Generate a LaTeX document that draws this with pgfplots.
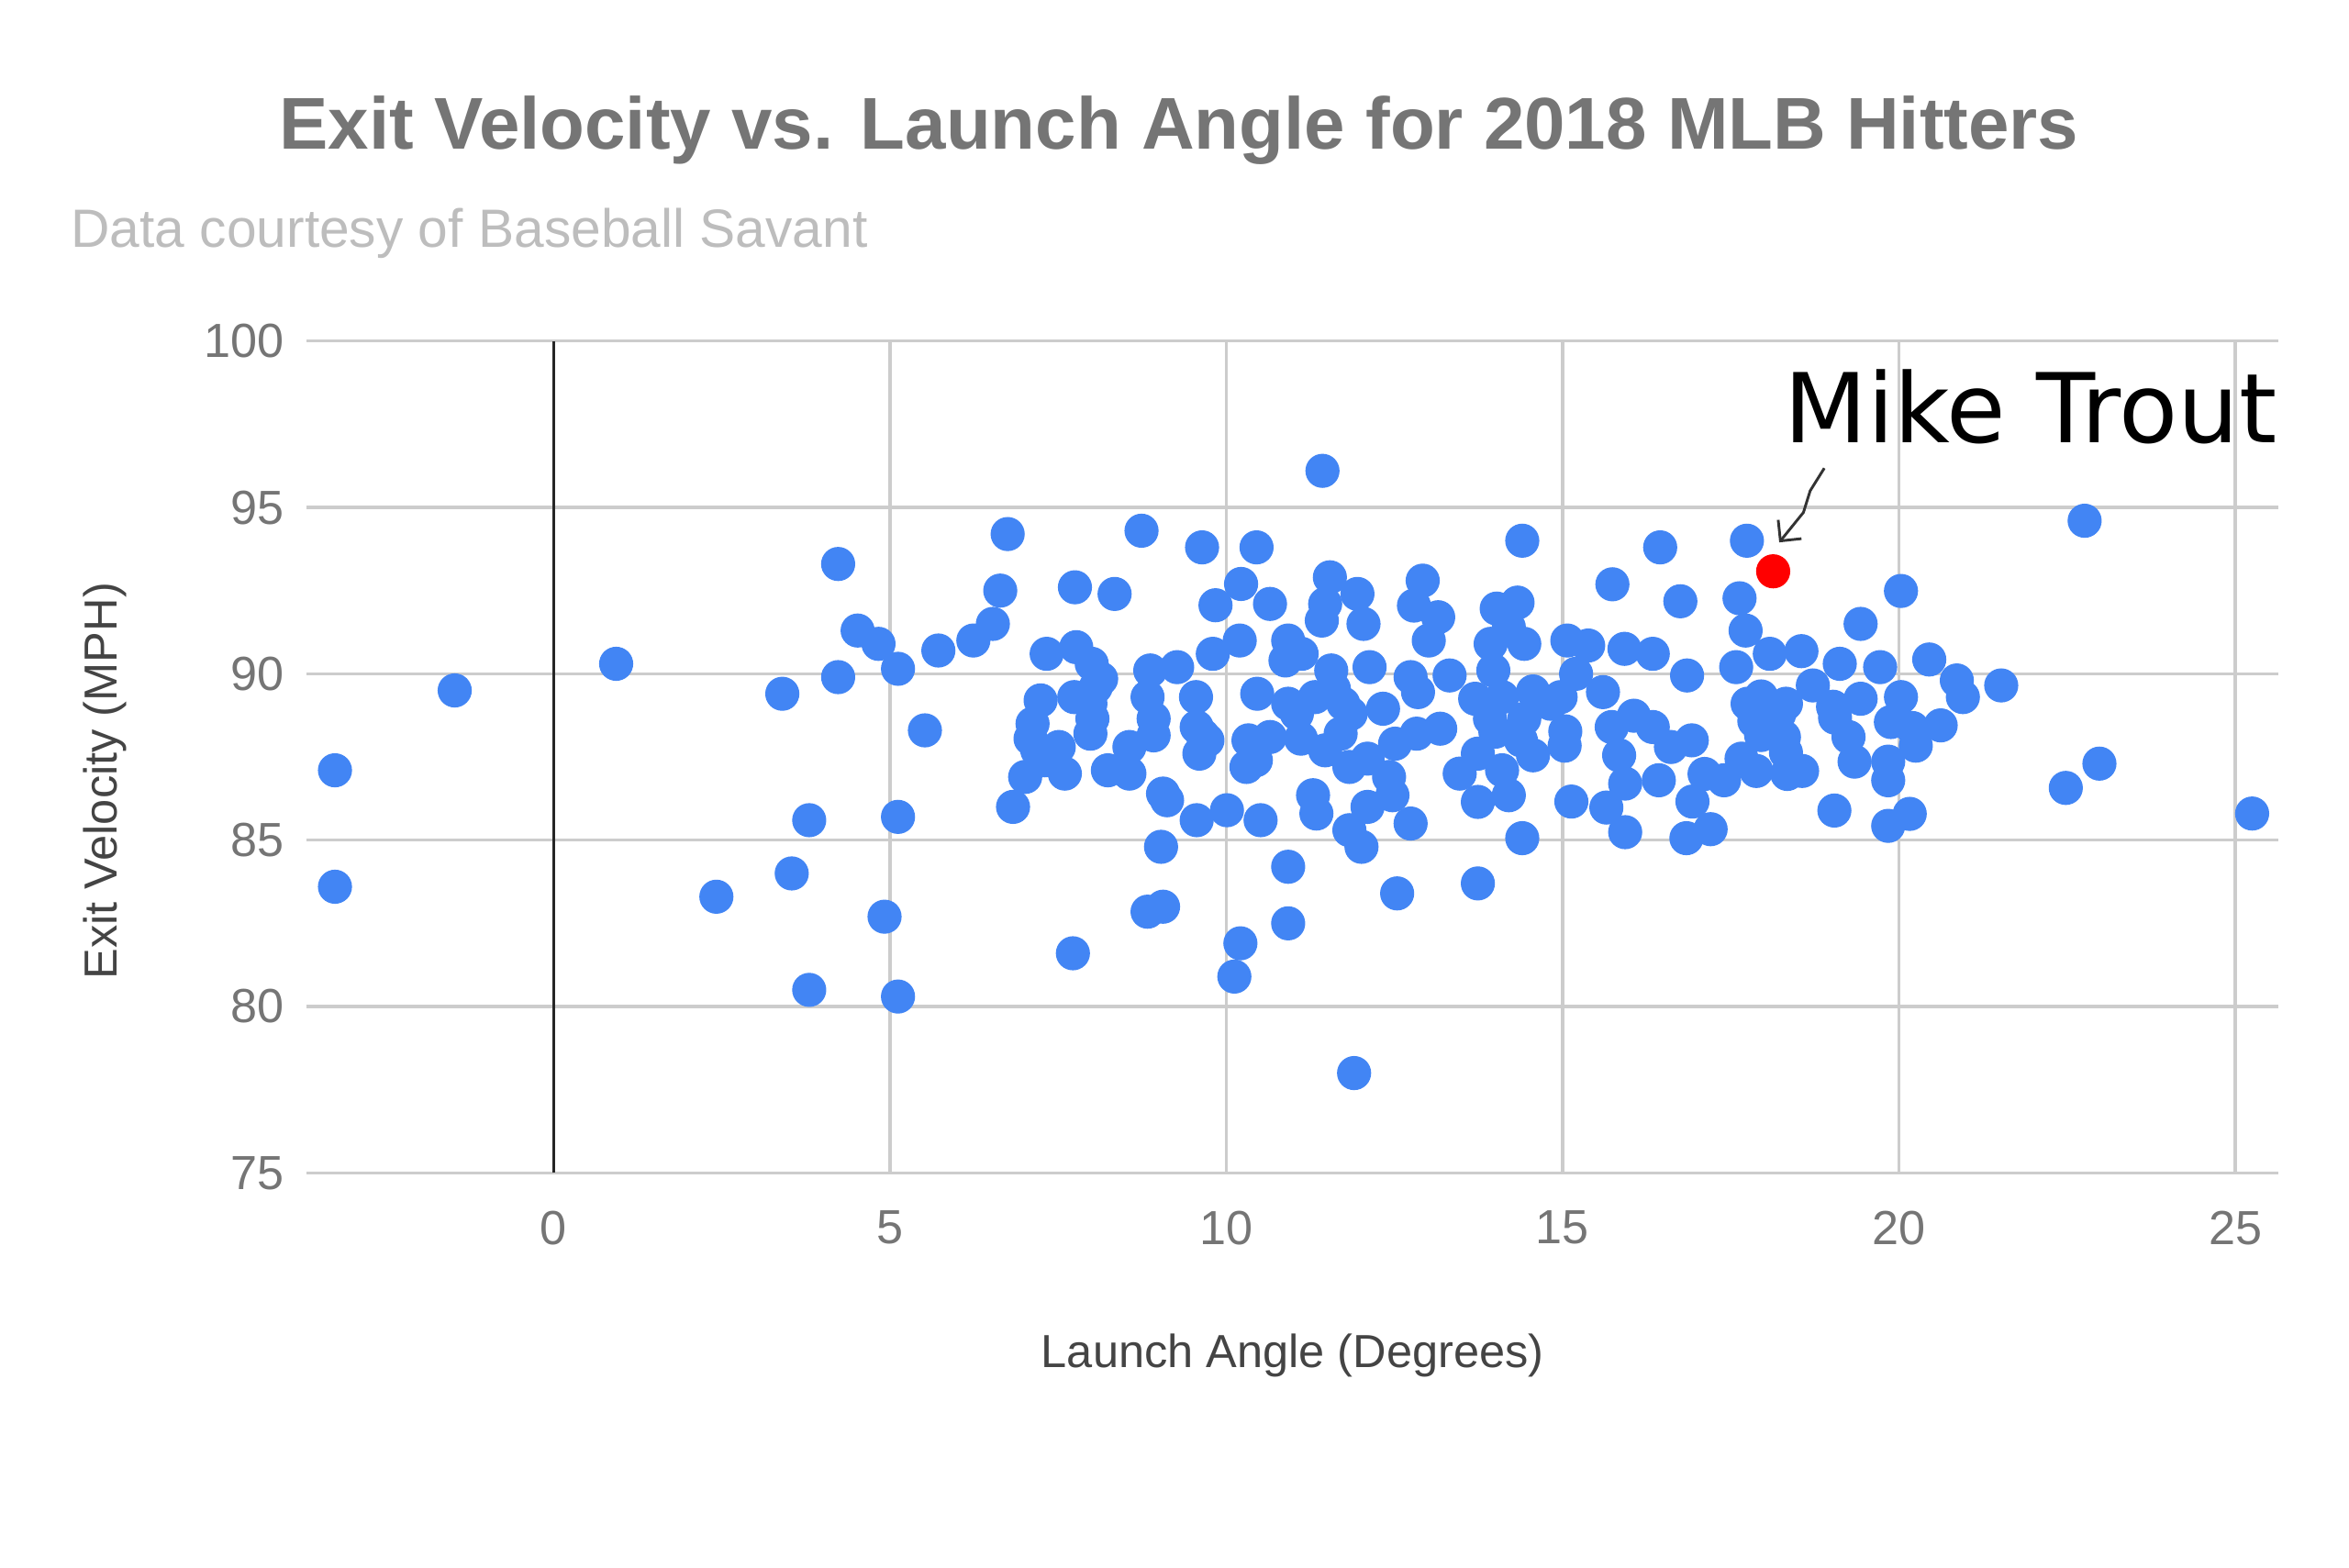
\documentclass[border=0pt]{standalone}
\usepackage{pgfplots}
\pgfplotsset{compat=1.18}
\usepackage{pgfplotstable}
\usepackage{fontspec}
\setmainfont{Liberation Sans}
\newfontfamily\djv{DejaVu Sans}
\usetikzlibrary{arrows.meta}
\definecolor{gblue}{HTML}{4285F4}
\definecolor{titlegray}{HTML}{757575}
\definecolor{subgray}{HTML}{BDBDBD}
\definecolor{tickgray}{HTML}{757575}
\definecolor{labgray}{HTML}{444444}
\definecolor{gridgray}{HTML}{CCCCCC}
\definecolor{troutred}{HTML}{FF0000}

\pgfplotstableread{
x y
-3.25 87.1
-3.25 83.6
-1.47 89.5
0.93 90.3
2.42 83.3
3.40 89.4
3.54 84.0
3.80 85.6
3.80 80.5
4.23 93.3
4.23 89.9
4.52 91.3
4.83 90.9
4.92 82.7
5.12 90.15
5.12 85.7
5.12 80.3
5.52 88.3
5.72 90.7
6.24 91.0
6.53 91.5
6.64 92.5
6.75 94.2
6.83 86.0
7.01 86.9
7.09 88.05
7.12 88.5
7.19 87.7
7.24 89.2
7.30 87.4
7.33 90.6
7.51 87.8
7.60 87.0
7.72 81.6
7.74 89.3
7.75 92.6
7.77 90.8
7.98 89.1
7.98 88.2
8.01 88.65
8.06 89.6
8.14 89.85
8.00 90.3
8.24 87.1
8.34 92.4
8.56 87.8
8.56 87.0
8.74 94.3
8.83 89.3
8.87 90.1
8.92 88.65
8.92 88.15
8.83 82.85
9.03 84.8
9.06 83.0
9.06 86.4
9.12 86.2
9.27 90.2
9.55 89.3
9.56 88.4
9.65 88.15
9.72 88.0
9.56 85.6
9.64 93.8
9.80 90.6
9.84 92.06
9.60 87.6
10.01 85.9
10.12 80.9
10.30 87.2
10.22 92.7
10.20 91.0
10.21 81.9
10.45 93.8
10.46 89.4
10.44 87.4
10.51 85.6
10.65 92.1
10.65 88.1
10.33 88.0
10.88 90.4
10.92 91.0
10.92 89.1
10.92 84.2
10.92 82.5
11.05 88.8
11.12 90.6
11.11 88.05
11.29 86.35
11.32 89.3
11.34 85.8
11.42 91.6
11.47 87.7
11.43 96.1
11.47 92.1
11.54 92.9
11.56 90.1
11.60 89.55
11.70 88.2
11.74 89.1
11.83 87.2
11.83 85.3
11.85 88.8
11.90 78.0
11.95 92.4
12.01 84.8
12.04 91.5
12.10 87.45
12.10 86.0
12.13 90.2
12.33 88.95
12.42 86.9
12.47 86.35
12.51 87.9
12.54 83.4
12.74 89.9
12.74 85.5
12.79 92.05
12.85 89.45
12.83 88.2
12.92 92.8
13.01 91.0
13.15 91.7
13.18 88.35
13.32 89.95
13.47 87.0
13.70 89.25
13.74 87.6
13.74 86.15
13.74 83.7
13.92 88.65
13.93 90.9
13.97 90.1
14.00 88.26
14.10 89.3
14.02 91.96
14.10 87.1
14.20 91.4
14.20 86.35
14.33 92.14
14.40 94.0
14.40 85.06
14.43 90.9
14.56 87.55
14.56 89.47
14.97 89.3
14.43 88.65
14.38 88.0
14.82 89.1
15.04 88.27
15.07 91.0
15.03 87.84
15.13 86.16
15.20 90.0
15.38 90.85
15.60 89.45
15.65 85.98
15.73 88.4
15.74 92.69
15.84 87.55
15.92 90.75
15.93 86.7
15.93 85.24
16.06 88.74
16.34 88.4
16.34 90.6
16.43 86.8
16.45 93.8
16.61 87.8
16.75 92.18
16.85 89.95
16.84 85.06
16.92 88.0
16.93 86.16
17.11 86.99
17.20 85.33
17.40 86.8
17.58 90.2
17.63 92.27
17.66 87.45
17.72 91.3
17.74 94.0
17.75 89.1
17.85 88.58
17.88 87.08
17.95 89.32
17.95 88.16
18.08 90.6
18.22 88.79
18.29 88.1
18.32 89.1
18.32 87.63
18.34 86.99
18.55 90.68
18.56 87.08
18.72 89.65
19.02 89.01
19.04 85.89
19.05 88.68
19.12 90.3
19.25 88.1
19.34 87.36
19.43 91.5
19.43 89.25
19.72 90.2
19.84 87.36
19.84 86.8
19.84 85.43
19.88 88.55
20.03 89.3
20.03 92.49
20.16 85.79
20.20 88.37
20.25 87.84
20.45 90.43
20.62 88.45
20.86 89.8
20.95 89.3
21.52 89.65
22.48 86.57
22.76 94.6
22.98 87.3
25.25 85.8
}\hitters

\pgfplotstableread{
x y
18.13 93.08
}\trout

\begin{document}
\begin{tikzpicture}
\fill[white] (0,0) rectangle (785pt,523.75pt);
\node[anchor=base, inner sep=0, text=titlegray, font=\fontsize{24.5pt}{29pt}\selectfont\bfseries] at (394pt,474pt) {Exit Velocity vs. Launch Angle for 2018 MLB Hitters};
\node[anchor=base west, inner sep=0, text=subgray, font=\fontsize{18pt}{22pt}\selectfont] at (23.6pt,441pt) {Data courtesy of Baseball Savant};
\begin{axis}[
 at={(102.5pt,131.75pt)}, anchor=south west,
 scale only axis, width=659pt, height=278pt,
 xmin=-3.67, xmax=25.645, ymin=75, ymax=100,
 xtick={0,5,...,25}, ytick={75,80,...,100},
 grid=major, major grid style={draw=gridgray, line width=1pt},
 axis line style={draw=none},
 major tick length=0pt,
 tick style={draw=none},
 /pgf/number format/assume math mode=true,
 ticklabel style={font=\fontsize{16pt}{19pt}\selectfont, text=tickgray, inner sep=0pt},
 yticklabel style={anchor=east, xshift=-7.5pt},
 xticklabel style={anchor=north, yshift=-12.5pt},
 xlabel={Launch Angle (Degrees)},
 ylabel={Exit Velocity (MPH)},
 every axis x label/.style={at={(axis description cs:0.5,-0.2194)}, anchor=center, font=\fontsize{15.5pt}{18pt}\selectfont, text=labgray},
 every axis y label/.style={at={(axis description cs:-0.1024,0.471)}, rotate=90, anchor=center, font=\fontsize{15.5pt}{18pt}\selectfont, text=labgray},
 clip=false,
]
\draw[black!85, line width=0.9pt] (axis cs:0,75) -- (axis cs:0,100);
\addplot[only marks, mark=*, mark size=5.5pt, color=gblue, mark options={draw=gblue, fill=gblue}] table {\hitters};
\addplot[only marks, mark=*, mark size=5.5pt, color=troutred, mark options={draw=troutred, fill=troutred}] table {\trout};
\node[anchor=base west, inner sep=0, font=\djv\fontsize{32.2pt}{38pt}\selectfont] at (axis cs:18.29,96.94) {Mike Trout};
\draw[black!80, line width=0.9pt, -{Straight Barb[length=5pt,width=10pt]}] (axis cs:18.89,96.18) -- (axis cs:18.68,95.5) -- (axis cs:18.58,94.85) -- (axis cs:18.22,93.95);
\end{axis}
\end{tikzpicture}
\end{document}
